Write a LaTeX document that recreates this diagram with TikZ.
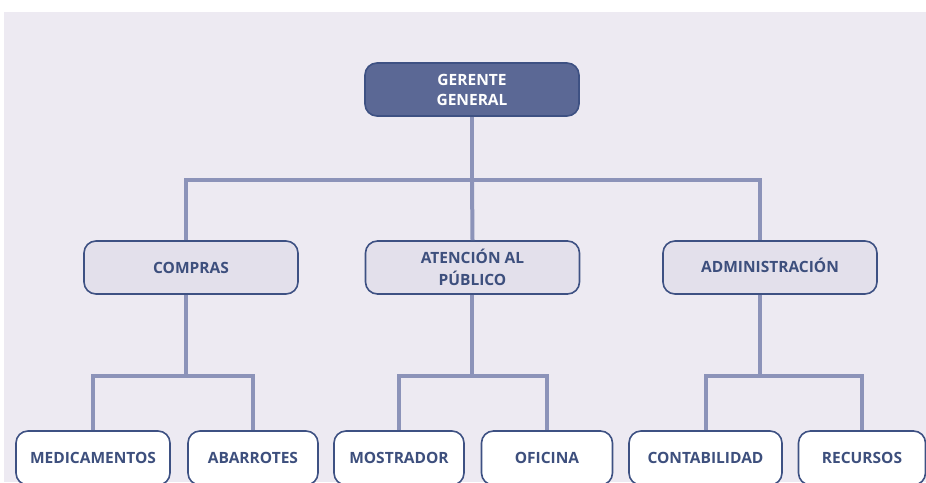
\documentclass[tikz,border=0pt]{standalone}
\usepackage{fontspec}
\setmainfont{Open Sans}
\definecolor{bgc}{HTML}{EDEAF2}
\definecolor{topfill}{HTML}{5B6895}
\definecolor{bord}{HTML}{3E5183}
\definecolor{midfill}{HTML}{E3E0EB}
\definecolor{linec}{HTML}{8C93B9}
\definecolor{txt}{HTML}{3D4F7D}
\tikzset{
  box/.style={draw=bord, line width=1.6pt, rounded corners=12pt, minimum height=53pt, align=center, font=\fontsize{15.5}{22}\selectfont\bfseries, text=txt},
  topbox/.style={box, fill=topfill, text=white, minimum width=214pt, font=\fontsize{15.5}{20}\selectfont\bfseries},
  midbox/.style={box, fill=midfill, minimum width=214pt},
  lowbox/.style={box, fill=white, minimum height=54pt},
  conn/.style={draw=linec, line width=4pt}
}
\begin{document}
\begin{tikzpicture}[x=1pt,y=-1pt]
\useasboundingbox (0,0) rectangle (926,482);
\begin{scope}
\clip (0,0) rectangle (926,482);
\fill[bgc] (4,12) rectangle (926,482);
% coordinates
\coordinate (bus) at (472,180);
\coordinate (cb) at (186,376);
\coordinate (ab) at (472,376);
\coordinate (db) at (760,376);
% nodes
\node[topbox] (g) at (472,89.5) {GERENTE\\GENERAL};
\node[midbox] (c) at (191,267.5) {COMPRAS};
\node[midbox] (at) at (472.5,267.5) {ATENCIÓN AL\\PÚBLICO};
\node[midbox, text height=11pt] (ad) at (770,267.5) {ADMINISTRACIÓN};
\node[lowbox, minimum width=154pt] (med) at (93,458) {MEDICAMENTOS};
\node[lowbox, minimum width=130pt] (aba) at (253,458) {ABARROTES};
\node[lowbox, minimum width=130pt] (mos) at (399,458) {MOSTRADOR};
\node[lowbox, minimum width=131pt] (ofi) at (547,458) {OFICINA};
\node[lowbox, minimum width=153pt] (con) at (705.5,458) {CONTABILIDAD};
\node[lowbox, minimum width=127pt] (rec) at (862,458) {RECURSOS};
% connectors
\draw[conn] (g.south) -- (bus);
\draw[conn] (cb |- c.north) |- (bus) -| (db |- ad.north);
\draw[conn] (bus) -- (at.north);
\draw[conn] (cb |- c.south) -- (cb);
\draw[conn] (med.north) |- (cb) -| (aba.north);
\draw[conn] (ab |- at.south) -- (ab);
\draw[conn] (mos.north) |- (ab) -| (ofi.north);
\draw[conn] (db |- ad.south) -- (db);
\draw[conn] (con.north) |- (db) -| (rec.north);
\end{scope}
\end{tikzpicture}
\end{document}
